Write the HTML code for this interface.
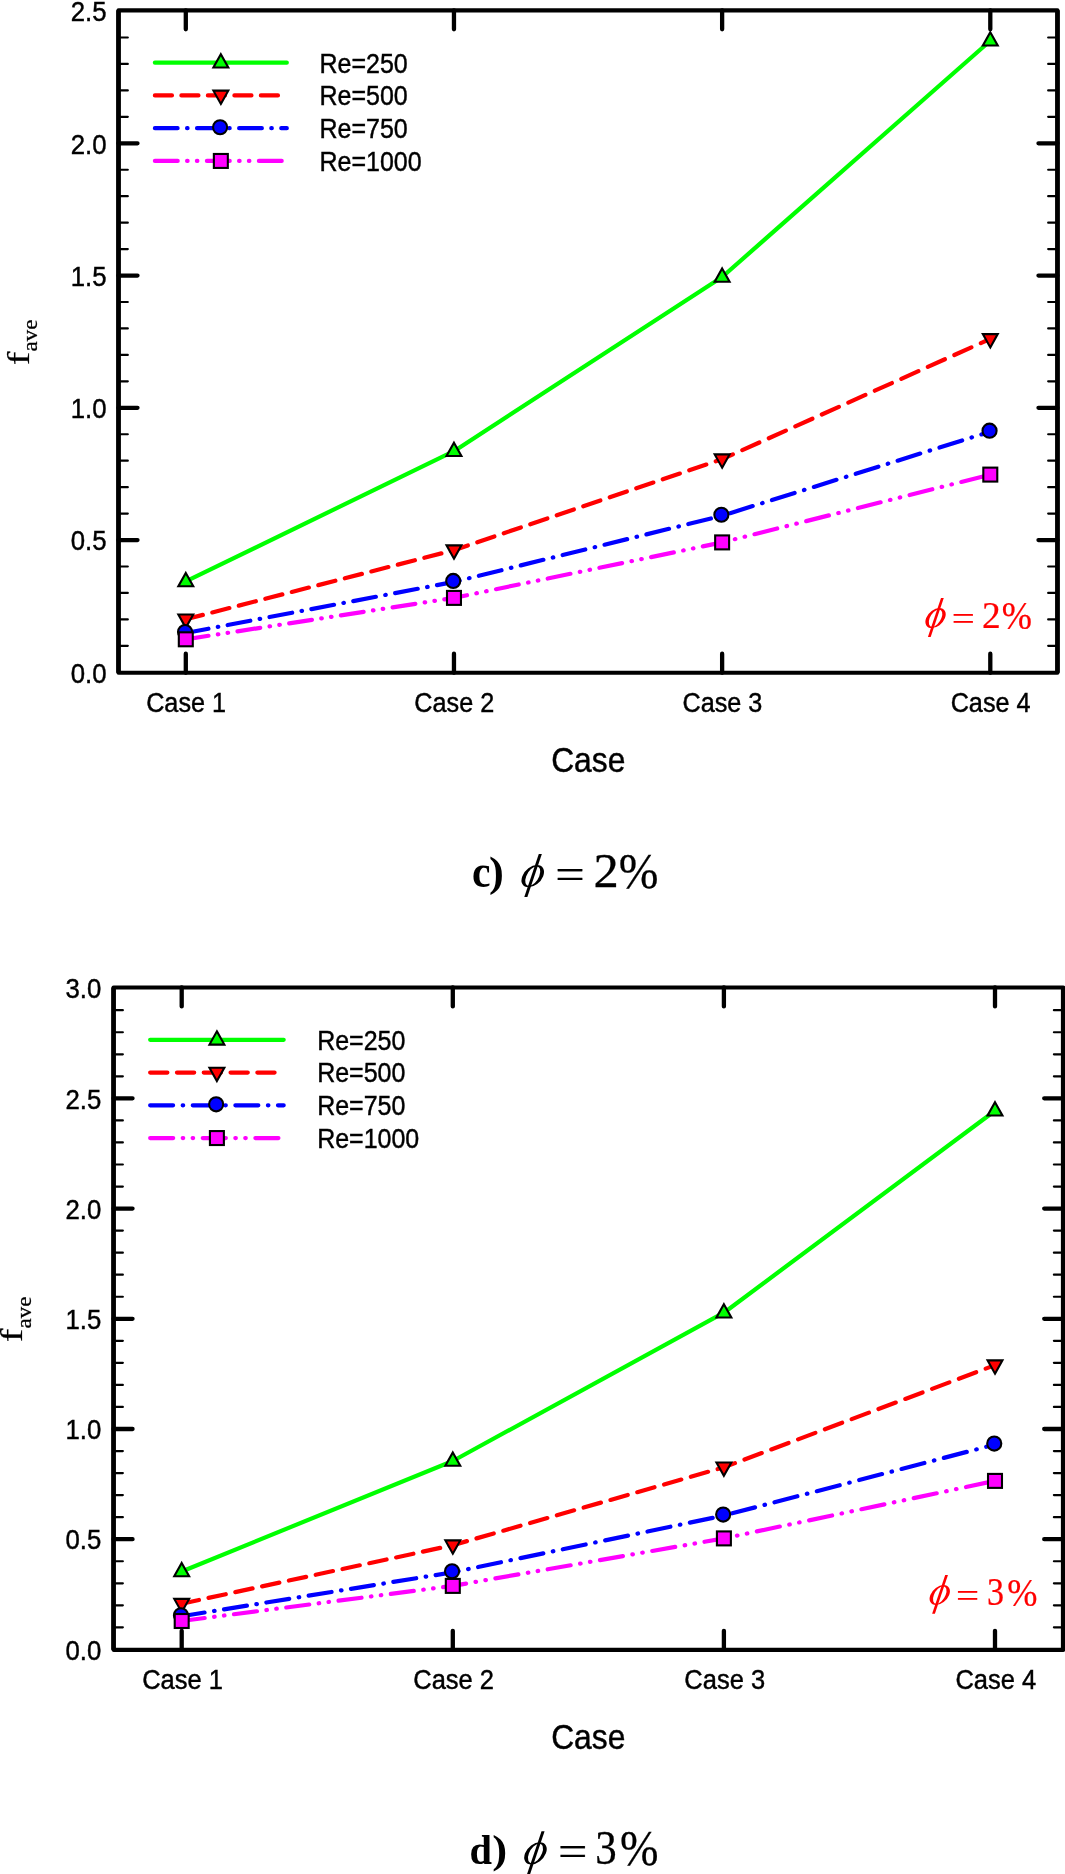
<!DOCTYPE html>
<html><head><meta charset="utf-8"><title>f_ave vs Case</title>
<style>
html,body{margin:0;padding:0;background:#fff;}
svg{display:block;will-change:transform;}
.sa,.sa text{font-family:"Liberation Sans", sans-serif;}
.se,.se text{font-family:"Liberation Serif", serif;}
</style></head>
<body>
<svg width="1065" height="1874" viewBox="0 0 1065 1874">
<rect x="0" y="0" width="1065" height="1874" fill="#fff"/>
<rect x="118.5" y="10.35" width="938.97" height="662.42" fill="none" stroke="#000" stroke-width="4.15" stroke-linejoin="round"/>
<path d="M118.5 10.35V672.77M1057.47 10.35V672.77" fill="none" stroke="#000" stroke-width="4.6"/>
<path d="M185.8 10.35v19M185.8 672.77v-19M453.97 10.35v19M453.97 672.77v-19M722.13 10.35v19M722.13 672.77v-19M990.3 10.35v19M990.3 672.77v-19M118.5 540.05h19M1057.47 540.05h-19M118.5 407.8h19M1057.47 407.8h-19M118.5 275.55h19M1057.47 275.55h-19M118.5 143.3h19M1057.47 143.3h-19" stroke="#000" stroke-width="4.3" stroke-linecap="round" fill="none"/>
<path d="M118.5 645.85h9.3M1057.47 645.85h-9.3M118.5 619.4h9.3M1057.47 619.4h-9.3M118.5 592.95h9.3M1057.47 592.95h-9.3M118.5 566.5h9.3M1057.47 566.5h-9.3M118.5 513.6h9.3M1057.47 513.6h-9.3M118.5 487.15h9.3M1057.47 487.15h-9.3M118.5 460.7h9.3M1057.47 460.7h-9.3M118.5 434.25h9.3M1057.47 434.25h-9.3M118.5 381.35h9.3M1057.47 381.35h-9.3M118.5 354.9h9.3M1057.47 354.9h-9.3M118.5 328.45h9.3M1057.47 328.45h-9.3M118.5 302h9.3M1057.47 302h-9.3M118.5 249.1h9.3M1057.47 249.1h-9.3M118.5 222.65h9.3M1057.47 222.65h-9.3M118.5 196.2h9.3M1057.47 196.2h-9.3M118.5 169.75h9.3M1057.47 169.75h-9.3M118.5 116.85h9.3M1057.47 116.85h-9.3M118.5 90.4h9.3M1057.47 90.4h-9.3M118.5 63.95h9.3M1057.47 63.95h-9.3M118.5 37.5h9.3M1057.47 37.5h-9.3" stroke="#000" stroke-width="2.2" stroke-linecap="round" fill="none"/>
<g class="sa" font-size="25" fill="#000" stroke="#000" stroke-width="0.4">
<text transform="translate(106.5 682.5) scale(1.03 1.1)" text-anchor="end">0.0</text>
<text transform="translate(106.5 550.25) scale(1.03 1.1)" text-anchor="end">0.5</text>
<text transform="translate(106.5 418) scale(1.03 1.1)" text-anchor="end">1.0</text>
<text transform="translate(106.5 285.75) scale(1.03 1.1)" text-anchor="end">1.5</text>
<text transform="translate(106.5 153.5) scale(1.03 1.1)" text-anchor="end">2.0</text>
<text transform="translate(106.5 21.25) scale(1.03 1.1)" text-anchor="end">2.5</text>
<text transform="translate(186.1 712.2) scale(1.01 1.1)" text-anchor="middle">Case 1</text>
<text transform="translate(454.27 712.2) scale(1.01 1.1)" text-anchor="middle">Case 2</text>
<text transform="translate(722.43 712.2) scale(1.01 1.1)" text-anchor="middle">Case 3</text>
<text transform="translate(990.6 712.2) scale(1.01 1.1)" text-anchor="middle">Case 4</text>
<text transform="translate(319.5 72.5) scale(1 1.1)">Re=250</text>
<text transform="translate(319.5 105.25) scale(1 1.1)">Re=500</text>
<text transform="translate(319.5 138) scale(1 1.1)">Re=750</text>
<text transform="translate(319.5 170.75) scale(1 1.1)">Re=1000</text>
</g>
<text class="sa" transform="translate(588.25 771.7) scale(0.9935 1.083)" text-anchor="middle" font-size="32" stroke="#000" stroke-width="0.4">Case</text>
<g class="se" transform="translate(28.8 365.3) rotate(-90)" fill="#000"><text transform="scale(1.3 1)" font-size="31.5" stroke="#000" stroke-width="0.2">f</text><text transform="translate(13.9 7.9) scale(1.12 1)" font-size="20.5" stroke="#000" stroke-width="0.25">ave</text></g>
<path d="M154.9 62.7L286.8 62.7" fill="none" stroke="#00ff00" stroke-width="4.2" stroke-linecap="round" stroke-linejoin="round"/>
<path d="M220.85 54.2L228.3 67.5L213.4 67.5Z" fill="#00ff00" stroke="#000" stroke-width="2.1" stroke-linejoin="miter"/>
<path d="M154.9 95.45L286.8 95.45" fill="none" stroke="#ff0000" stroke-width="4.2" stroke-linecap="round" stroke-linejoin="round" stroke-dasharray="17.05 9.45"/>
<path d="M220.85 103.95L228.3 90.65L213.4 90.65Z" fill="#ff0000" stroke="#000" stroke-width="2.1" stroke-linejoin="miter"/>
<path d="M154.9 128.2L286.8 128.2" fill="none" stroke="#0000ff" stroke-width="4.2" stroke-linecap="round" stroke-linejoin="round" stroke-dasharray="22.7 9.46 0.5 9.46"/>
<circle cx="220.1" cy="127.25" r="7.05" fill="#0000ff" stroke="#000" stroke-width="2.1" stroke-linejoin="miter"/>
<path d="M154.9 160.95L286.8 160.95" fill="none" stroke="#ff00ff" stroke-width="4.2" stroke-linecap="round" stroke-linejoin="round" stroke-dasharray="22.8 9.4 0.5 9.3 0.5 9.5"/>
<rect x="213.87" y="153.97" width="13.96" height="13.96" fill="#ff00ff" stroke="#000" stroke-width="2.1" stroke-linejoin="miter"/>
<path d="M185.8 581.45L453.97 451.15L722.13 277L990.3 40.75" fill="none" stroke="#00ff00" stroke-width="4.2" stroke-linecap="round" stroke-linejoin="round"/>
<path d="M185.8 572.95L193.25 586.25L178.35 586.25Z" fill="#00ff00" stroke="#000" stroke-width="2.1" stroke-linejoin="miter"/>
<path d="M453.97 442.65L461.42 455.95L446.52 455.95Z" fill="#00ff00" stroke="#000" stroke-width="2.1" stroke-linejoin="miter"/>
<path d="M722.13 268.5L729.58 281.8L714.68 281.8Z" fill="#00ff00" stroke="#000" stroke-width="2.1" stroke-linejoin="miter"/>
<path d="M990.3 32.25L997.75 45.55L982.85 45.55Z" fill="#00ff00" stroke="#000" stroke-width="2.1" stroke-linejoin="miter"/>
<path d="M185.8 619.3L453.97 550.15" fill="none" stroke="#ff0000" stroke-width="4.2" stroke-linecap="round" stroke-dasharray="17.61 9.76" stroke-dashoffset="0"/>
<path d="M453.97 550.15L722.13 459.2" fill="none" stroke="#ff0000" stroke-width="4.2" stroke-linecap="round" stroke-dasharray="18 9.98" stroke-dashoffset="3.35"/>
<path d="M722.13 459.2L990.3 338.9" fill="none" stroke="#ff0000" stroke-width="4.2" stroke-linecap="round" stroke-dasharray="18.69 10.36" stroke-dashoffset="6.94"/>
<path d="M185.8 627.8L193.25 614.5L178.35 614.5Z" fill="#ff0000" stroke="#000" stroke-width="2.1" stroke-linejoin="miter"/>
<path d="M453.97 558.65L461.42 545.35L446.52 545.35Z" fill="#ff0000" stroke="#000" stroke-width="2.1" stroke-linejoin="miter"/>
<path d="M722.13 467.7L729.58 454.4L714.68 454.4Z" fill="#ff0000" stroke="#000" stroke-width="2.1" stroke-linejoin="miter"/>
<path d="M990.3 347.4L997.75 334.1L982.85 334.1Z" fill="#ff0000" stroke="#000" stroke-width="2.1" stroke-linejoin="miter"/>
<path d="M185.8 633L453.97 581.9" fill="none" stroke="#0000ff" stroke-width="4.2" stroke-linecap="round" stroke-dasharray="23.01 9.55 0.51 9.55" stroke-dashoffset="0"/>
<path d="M453.97 581.9L722.13 515.7" fill="none" stroke="#0000ff" stroke-width="4.2" stroke-linecap="round" stroke-dasharray="23.28 9.67 0.52 9.67" stroke-dashoffset="17.46"/>
<path d="M722.13 515.7L990.3 431.6" fill="none" stroke="#0000ff" stroke-width="4.2" stroke-linecap="round" stroke-dasharray="23.69 9.84 0.52 9.84" stroke-dashoffset="35.52"/>
<circle cx="185.05" cy="632.05" r="7.05" fill="#0000ff" stroke="#000" stroke-width="2.1" stroke-linejoin="miter"/>
<circle cx="453.22" cy="580.95" r="7.05" fill="#0000ff" stroke="#000" stroke-width="2.1" stroke-linejoin="miter"/>
<circle cx="721.38" cy="514.75" r="7.05" fill="#0000ff" stroke="#000" stroke-width="2.1" stroke-linejoin="miter"/>
<circle cx="989.55" cy="430.65" r="7.05" fill="#0000ff" stroke="#000" stroke-width="2.1" stroke-linejoin="miter"/>
<path d="M185.8 639.3L453.97 597.9" fill="none" stroke="#ff00ff" stroke-width="4.2" stroke-linecap="round" stroke-dasharray="22.97 9.46 0.51 9.36 0.51 9.51" stroke-dashoffset="0"/>
<path d="M453.97 597.9L722.13 542.4" fill="none" stroke="#ff00ff" stroke-width="4.2" stroke-linecap="round" stroke-dasharray="23.18 9.55 0.51 9.45 0.51 9.6" stroke-dashoffset="9.87"/>
<path d="M722.13 542.4L990.3 474.6" fill="none" stroke="#ff00ff" stroke-width="4.2" stroke-linecap="round" stroke-dasharray="23.41 9.64 0.52 9.54 0.52 9.7" stroke-dashoffset="19.94"/>
<rect x="178.82" y="632.32" width="13.96" height="13.96" fill="#ff00ff" stroke="#000" stroke-width="2.1" stroke-linejoin="miter"/>
<rect x="446.99" y="590.92" width="13.96" height="13.96" fill="#ff00ff" stroke="#000" stroke-width="2.1" stroke-linejoin="miter"/>
<rect x="715.15" y="535.42" width="13.96" height="13.96" fill="#ff00ff" stroke="#000" stroke-width="2.1" stroke-linejoin="miter"/>
<rect x="983.32" y="467.62" width="13.96" height="13.96" fill="#ff00ff" stroke="#000" stroke-width="2.1" stroke-linejoin="miter"/>
<g transform="translate(925 627.9)">
<g transform="translate(10.55 -9.8) skewX(-21)">
<path fill-rule="evenodd" fill="#ff0000" d="M-9.4 0A9.4 10 0 1 0 9.4 0A9.4 10 0 1 0 -9.4 0ZM-5.9 0A5.9 8.7 0 1 0 5.9 0A5.9 8.7 0 1 0 -5.9 0Z"/>
</g>
<path d="M16 -29.8L18.76 -29.8L5.68 9L2.92 9Z" fill="#ff0000"/>
</g>
<g class="se" font-size="37" fill="#ff0000" stroke="#ff0000" stroke-width="0.22">
<text transform="translate(951.7 630.09) scale(1.107 0.888)">=</text>
<text transform="translate(982.1 627.9) scale(1.01 1.05)">2</text>
<text transform="translate(1001.76 629.09) scale(0.98 1.08)">%</text>
</g>
<g class="se" font-weight="bold" font-size="43" fill="#000">
<text transform="translate(472 887) scale(0.97 1.06)">c</text>
<text transform="translate(489.1 886.2) scale(1.04 0.96)">)</text>
</g>
<g transform="translate(521.06 887)">
<g transform="translate(11.69 -10.86) skewX(-21)">
<path fill-rule="evenodd" fill="#000" d="M-10.42 0A10.42 11.08 0 1 0 10.42 0A10.42 11.08 0 1 0 -10.42 0ZM-6.54 0A6.54 9.64 0 1 0 6.54 0A6.54 9.64 0 1 0 -6.54 0Z"/>
</g>
<path d="M17.73 -33.02L20.79 -33.02L6.29 9.97L3.24 9.97Z" fill="#000"/>
</g>
<g class="se" font-size="47.2" fill="#000" stroke="#000" stroke-width="0.28">
<text transform="translate(555.27 887.89) scale(1.107 0.888)">=</text>
<text transform="translate(593.48 887) scale(1.07 1.05)">2</text>
<text transform="translate(618.74 887.51) scale(1.01 1.08)">%</text>
</g>
<rect x="113.55" y="987.45" width="949.65" height="662.4" fill="none" stroke="#000" stroke-width="4.15" stroke-linejoin="round"/>
<path d="M113.55 987.45V1649.85M1063.2 987.45V1649.85" fill="none" stroke="#000" stroke-width="4.6"/>
<path d="M181.7 987.45v19M181.7 1649.85v-19M452.8 987.45v19M452.8 1649.85v-19M723.9 987.45v19M723.9 1649.85v-19M995 987.45v19M995 1649.85v-19M113.55 1539.19h19M1063.2 1539.19h-19M113.55 1428.98h19M1063.2 1428.98h-19M113.55 1318.78h19M1063.2 1318.78h-19M113.55 1208.57h19M1063.2 1208.57h-19M113.55 1098.36h19M1063.2 1098.36h-19" stroke="#000" stroke-width="4.3" stroke-linecap="round" fill="none"/>
<path d="M113.55 1627.36h9.3M1063.2 1627.36h-9.3M113.55 1605.32h9.3M1063.2 1605.32h-9.3M113.55 1583.28h9.3M1063.2 1583.28h-9.3M113.55 1561.23h9.3M1063.2 1561.23h-9.3M113.55 1517.15h9.3M1063.2 1517.15h-9.3M113.55 1495.11h9.3M1063.2 1495.11h-9.3M113.55 1473.07h9.3M1063.2 1473.07h-9.3M113.55 1451.03h9.3M1063.2 1451.03h-9.3M113.55 1406.94h9.3M1063.2 1406.94h-9.3M113.55 1384.9h9.3M1063.2 1384.9h-9.3M113.55 1362.86h9.3M1063.2 1362.86h-9.3M113.55 1340.82h9.3M1063.2 1340.82h-9.3M113.55 1296.73h9.3M1063.2 1296.73h-9.3M113.55 1274.69h9.3M1063.2 1274.69h-9.3M113.55 1252.65h9.3M1063.2 1252.65h-9.3M113.55 1230.61h9.3M1063.2 1230.61h-9.3M113.55 1186.53h9.3M1063.2 1186.53h-9.3M113.55 1164.48h9.3M1063.2 1164.48h-9.3M113.55 1142.44h9.3M1063.2 1142.44h-9.3M113.55 1120.4h9.3M1063.2 1120.4h-9.3M113.55 1076.32h9.3M1063.2 1076.32h-9.3M113.55 1054.28h9.3M1063.2 1054.28h-9.3M113.55 1032.23h9.3M1063.2 1032.23h-9.3M113.55 1010.19h9.3M1063.2 1010.19h-9.3" stroke="#000" stroke-width="2.2" stroke-linecap="round" fill="none"/>
<g class="sa" font-size="25" fill="#000" stroke="#000" stroke-width="0.4">
<text transform="translate(101.3 1659.6) scale(1.03 1.1)" text-anchor="end">0.0</text>
<text transform="translate(101.3 1549.39) scale(1.03 1.1)" text-anchor="end">0.5</text>
<text transform="translate(101.3 1439.18) scale(1.03 1.1)" text-anchor="end">1.0</text>
<text transform="translate(101.3 1328.98) scale(1.03 1.1)" text-anchor="end">1.5</text>
<text transform="translate(101.3 1218.77) scale(1.03 1.1)" text-anchor="end">2.0</text>
<text transform="translate(101.3 1108.56) scale(1.03 1.1)" text-anchor="end">2.5</text>
<text transform="translate(101.3 998.35) scale(1.03 1.1)" text-anchor="end">3.0</text>
<text transform="translate(182.5 1689.4) scale(1.02 1.1)" text-anchor="middle">Case 1</text>
<text transform="translate(453.6 1689.4) scale(1.02 1.1)" text-anchor="middle">Case 2</text>
<text transform="translate(724.7 1689.4) scale(1.02 1.1)" text-anchor="middle">Case 3</text>
<text transform="translate(995.8 1689.4) scale(1.02 1.1)" text-anchor="middle">Case 4</text>
<text transform="translate(317.15 1049.6) scale(1 1.1)">Re=250</text>
<text transform="translate(317.15 1082.35) scale(1 1.1)">Re=500</text>
<text transform="translate(317.15 1115.1) scale(1 1.1)">Re=750</text>
<text transform="translate(317.15 1147.85) scale(1 1.1)">Re=1000</text>
</g>
<text class="sa" transform="translate(588.25 1748.9) scale(0.9935 1.083)" text-anchor="middle" font-size="32" stroke="#000" stroke-width="0.4">Case</text>
<g class="se" transform="translate(21.9 1342.2) rotate(-90)" fill="#000"><text transform="scale(1.3 1)" font-size="31.5" stroke="#000" stroke-width="0.2">f</text><text transform="translate(13.8 9.1) scale(1.12 1)" font-size="20.5" stroke="#000" stroke-width="0.25">ave</text></g>
<path d="M150.15 1039.8L283.7 1039.8" fill="none" stroke="#00ff00" stroke-width="4.2" stroke-linecap="round" stroke-linejoin="round"/>
<path d="M216.9 1031.3L224.35 1044.6L209.45 1044.6Z" fill="#00ff00" stroke="#000" stroke-width="2.1" stroke-linejoin="miter"/>
<path d="M150.15 1072.55L283.7 1072.55" fill="none" stroke="#ff0000" stroke-width="4.2" stroke-linecap="round" stroke-linejoin="round" stroke-dasharray="17.24 9.56"/>
<path d="M216.9 1081.05L224.35 1067.75L209.45 1067.75Z" fill="#ff0000" stroke="#000" stroke-width="2.1" stroke-linejoin="miter"/>
<path d="M150.15 1105.3L283.7 1105.3" fill="none" stroke="#0000ff" stroke-width="4.2" stroke-linecap="round" stroke-linejoin="round" stroke-dasharray="22.96 9.57 0.51 9.57"/>
<circle cx="216.15" cy="1104.35" r="7.05" fill="#0000ff" stroke="#000" stroke-width="2.1" stroke-linejoin="miter"/>
<path d="M150.15 1138.05L283.7 1138.05" fill="none" stroke="#ff00ff" stroke-width="4.2" stroke-linecap="round" stroke-linejoin="round" stroke-dasharray="23.06 9.51 0.51 9.41 0.51 9.61"/>
<rect x="209.92" y="1131.07" width="13.96" height="13.96" fill="#ff00ff" stroke="#000" stroke-width="2.1" stroke-linejoin="miter"/>
<path d="M181.7 1571.45L452.8 1461L723.9 1312.7L995 1110.75" fill="none" stroke="#00ff00" stroke-width="4.2" stroke-linecap="round" stroke-linejoin="round"/>
<path d="M181.7 1562.95L189.15 1576.25L174.25 1576.25Z" fill="#00ff00" stroke="#000" stroke-width="2.1" stroke-linejoin="miter"/>
<path d="M452.8 1452.5L460.25 1465.8L445.35 1465.8Z" fill="#00ff00" stroke="#000" stroke-width="2.1" stroke-linejoin="miter"/>
<path d="M723.9 1304.2L731.35 1317.5L716.45 1317.5Z" fill="#00ff00" stroke="#000" stroke-width="2.1" stroke-linejoin="miter"/>
<path d="M995 1102.25L1002.45 1115.55L987.55 1115.55Z" fill="#00ff00" stroke="#000" stroke-width="2.1" stroke-linejoin="miter"/>
<path d="M181.7 1603.7L452.8 1545.2" fill="none" stroke="#ff0000" stroke-width="4.2" stroke-linecap="round" stroke-dasharray="17.64 9.78" stroke-dashoffset="0"/>
<path d="M452.8 1545.2L723.9 1467.3" fill="none" stroke="#ff0000" stroke-width="4.2" stroke-linecap="round" stroke-dasharray="17.94 9.94" stroke-dashoffset="3.23"/>
<path d="M723.9 1467.3L995 1365.15" fill="none" stroke="#ff0000" stroke-width="4.2" stroke-linecap="round" stroke-dasharray="18.43 10.21" stroke-dashoffset="6.64"/>
<path d="M181.7 1612.2L189.15 1598.9L174.25 1598.9Z" fill="#ff0000" stroke="#000" stroke-width="2.1" stroke-linejoin="miter"/>
<path d="M452.8 1553.7L460.25 1540.4L445.35 1540.4Z" fill="#ff0000" stroke="#000" stroke-width="2.1" stroke-linejoin="miter"/>
<path d="M723.9 1475.8L731.35 1462.5L716.45 1462.5Z" fill="#ff0000" stroke="#000" stroke-width="2.1" stroke-linejoin="miter"/>
<path d="M995 1373.65L1002.45 1360.35L987.55 1360.35Z" fill="#ff0000" stroke="#000" stroke-width="2.1" stroke-linejoin="miter"/>
<path d="M181.7 1616.25L452.8 1572.3" fill="none" stroke="#0000ff" stroke-width="4.2" stroke-linecap="round" stroke-dasharray="23.15 9.61 0.51 9.61" stroke-dashoffset="0"/>
<path d="M452.8 1572.3L723.9 1515.5" fill="none" stroke="#0000ff" stroke-width="4.2" stroke-linecap="round" stroke-dasharray="23.35 9.7 0.52 9.7" stroke-dashoffset="17.41"/>
<path d="M723.9 1515.5L995 1444.5" fill="none" stroke="#0000ff" stroke-width="4.2" stroke-linecap="round" stroke-dasharray="23.63 9.81 0.52 9.81" stroke-dashoffset="35.23"/>
<circle cx="180.95" cy="1615.3" r="7.05" fill="#0000ff" stroke="#000" stroke-width="2.1" stroke-linejoin="miter"/>
<circle cx="452.05" cy="1571.35" r="7.05" fill="#0000ff" stroke="#000" stroke-width="2.1" stroke-linejoin="miter"/>
<circle cx="723.15" cy="1514.55" r="7.05" fill="#0000ff" stroke="#000" stroke-width="2.1" stroke-linejoin="miter"/>
<circle cx="994.25" cy="1443.55" r="7.05" fill="#0000ff" stroke="#000" stroke-width="2.1" stroke-linejoin="miter"/>
<path d="M181.7 1621L452.8 1585.9" fill="none" stroke="#ff00ff" stroke-width="4.2" stroke-linecap="round" stroke-dasharray="23.15 9.53 0.51 9.43 0.51 9.59" stroke-dashoffset="0"/>
<path d="M452.8 1585.9L723.9 1538.4" fill="none" stroke="#ff00ff" stroke-width="4.2" stroke-linecap="round" stroke-dasharray="23.31 9.6 0.51 9.5 0.51 9.65" stroke-dashoffset="9.83"/>
<path d="M723.9 1538.4L995 1480.9" fill="none" stroke="#ff00ff" stroke-width="4.2" stroke-linecap="round" stroke-dasharray="23.47 9.67 0.52 9.56 0.52 9.72" stroke-dashoffset="19.79"/>
<rect x="174.72" y="1614.02" width="13.96" height="13.96" fill="#ff00ff" stroke="#000" stroke-width="2.1" stroke-linejoin="miter"/>
<rect x="445.82" y="1578.92" width="13.96" height="13.96" fill="#ff00ff" stroke="#000" stroke-width="2.1" stroke-linejoin="miter"/>
<rect x="716.92" y="1531.42" width="13.96" height="13.96" fill="#ff00ff" stroke="#000" stroke-width="2.1" stroke-linejoin="miter"/>
<rect x="988.02" y="1473.92" width="13.96" height="13.96" fill="#ff00ff" stroke="#000" stroke-width="2.1" stroke-linejoin="miter"/>
<g transform="translate(929.2 1604.8)">
<g transform="translate(10.55 -9.8) skewX(-21)">
<path fill-rule="evenodd" fill="#ff0000" d="M-9.4 0A9.4 10 0 1 0 9.4 0A9.4 10 0 1 0 -9.4 0ZM-5.9 0A5.9 8.7 0 1 0 5.9 0A5.9 8.7 0 1 0 -5.9 0Z"/>
</g>
<path d="M16 -29.8L18.76 -29.8L5.68 9L2.92 9Z" fill="#ff0000"/>
</g>
<g class="se" font-size="37" fill="#ff0000" stroke="#ff0000" stroke-width="0.22">
<text transform="translate(955.9 1606.99) scale(1.107 0.888)">=</text>
<text transform="translate(987 1604.8) scale(0.92 1.07)">3</text>
<text transform="translate(1007.16 1605.99) scale(0.98 1.08)">%</text>
</g>
<g class="se" font-weight="bold" font-size="43" fill="#000">
<text transform="translate(469.4 1864.2) scale(0.94 0.99)">d</text>
<text transform="translate(492.2 1863.4) scale(1.04 0.94)">)</text>
</g>
<g transform="translate(523.8 1864.2)">
<g transform="translate(11.69 -10.86) skewX(-21)">
<path fill-rule="evenodd" fill="#000" d="M-10.42 0A10.42 11.08 0 1 0 10.42 0A10.42 11.08 0 1 0 -10.42 0ZM-6.54 0A6.54 9.64 0 1 0 6.54 0A6.54 9.64 0 1 0 -6.54 0Z"/>
</g>
<path d="M17.73 -33.02L20.79 -33.02L6.29 9.97L3.24 9.97Z" fill="#000"/>
</g>
<g class="se" font-size="47.2" fill="#000" stroke="#000" stroke-width="0.28">
<text transform="translate(558.01 1865.09) scale(1.107 0.888)">=</text>
<text transform="translate(595.31 1864.2) scale(0.91 1.05)">3</text>
<text transform="translate(620.01 1864.62) scale(0.98 1.08)">%</text>
</g>
</svg>
</body></html>
